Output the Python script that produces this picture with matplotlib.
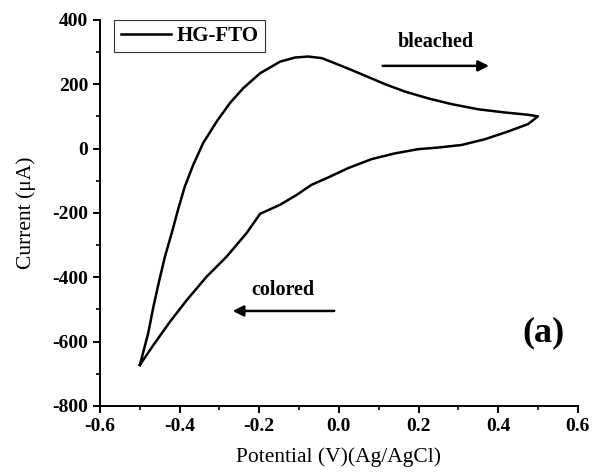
import matplotlib
matplotlib.use("Agg")
import matplotlib.pyplot as plt
from matplotlib.ticker import MultipleLocator

plt.rcParams.update({
    "font.family": ["Liberation Serif", "DejaVu Serif"],
    "axes.unicode_minus": False,
    "axes.linewidth": 1.4,
    "xtick.major.width": 1.4, "ytick.major.width": 1.4,
    "xtick.minor.width": 1.2, "ytick.minor.width": 1.2,
    "xtick.major.size": 5, "ytick.major.size": 5,
    "xtick.minor.size": 3, "ytick.minor.size": 3,
})

# ciclovoltametría HG-FTO: rama anódica (de -0.5 V a +0.5 V) y catódica de vuelta
V_UP = [-0.500, -0.479, -0.466, -0.451, -0.437, -0.420, -0.403, -0.387, -0.366,
        -0.341, -0.307, -0.274, -0.240, -0.198, -0.148, -0.110, -0.077, -0.043,
        -0.010, 0.032, 0.074, 0.116, 0.166, 0.224, 0.283, 0.350, 0.417, 0.475, 0.500]
I_UP = [-673, -574, -492, -409, -336, -263, -185, -118, -51,
        17, 84, 141, 188, 234, 270, 283, 286, 281,
        265, 244, 222, 200, 177, 156, 138, 122, 112, 105, 100]
V_DOWN = [0.500, 0.475, 0.425, 0.367, 0.308, 0.249, 0.199, 0.141, 0.082, 0.023,
          -0.027, -0.069, -0.106, -0.148, -0.198, -0.232, -0.282, -0.332,
          -0.382, -0.424, -0.466, -0.500]
I_DOWN = [100, 76, 53, 29, 11, 3, -2, -15, -33, -61,
          -90, -113, -144, -175, -203, -263, -336, -398,
          -471, -538, -611, -673]

fig = plt.figure(figsize=(5.92, 4.73), dpi=100)
ax = fig.add_axes([0.169, 0.142, 0.807, 0.816])

ax.plot(V_UP + V_DOWN[1:], I_UP + I_DOWN[1:], color="black", lw=1.8,
        solid_joinstyle="round", label="HG-FTO")

ax.set_xlim(-0.6, 0.6)
ax.set_ylim(-800, 400)
ax.xaxis.set_major_locator(MultipleLocator(0.2))
ax.xaxis.set_minor_locator(MultipleLocator(0.1))
ax.yaxis.set_major_locator(MultipleLocator(200))
ax.yaxis.set_minor_locator(MultipleLocator(100))
ax.xaxis.set_major_formatter(plt.FuncFormatter(lambda v, p: f"{v:.1f}"))
ax.spines["top"].set_visible(False)
ax.spines["right"].set_visible(False)
ax.tick_params(which="both", direction="out", labelsize=14)
for lbl in ax.get_xticklabels() + ax.get_yticklabels():
    lbl.set_fontweight("bold")

ax.set_xlabel("Potential (V)(Ag/AgCl)", fontsize=15.5, labelpad=9)
ax.set_ylabel("Current (\u03bcA)", fontsize=15.5, labelpad=12)

leg = ax.legend(loc="upper left", bbox_to_anchor=(0.03, 1.0), frameon=True, fancybox=False,
                prop={"weight": "bold", "size": 15}, handlelength=2.4,
                borderpad=0.3, handletextpad=0.3, borderaxespad=0.0)
leg.get_frame().set_edgecolor("black")
leg.get_frame().set_linewidth(0.8)

ax.annotate("", xy=(0.384, 257), xytext=(0.103, 257),
            arrowprops=dict(arrowstyle="-|>", color="black", lw=1.8, mutation_scale=16))
ax.text(0.243, 330, "bleached", fontsize=14.5, fontweight="bold", ha="center", va="center")
ax.annotate("", xy=(-0.274, -505), xytext=(-0.005, -505),
            arrowprops=dict(arrowstyle="-|>", color="black", lw=1.8, mutation_scale=16))
ax.text(-0.14, -440, "colored", fontsize=14.5, fontweight="bold", ha="center", va="center")
ax.text(0.515, -573, "(a)", fontsize=26, fontweight="bold", ha="center", va="center")

fig.savefig("out.png", dpi=100)
